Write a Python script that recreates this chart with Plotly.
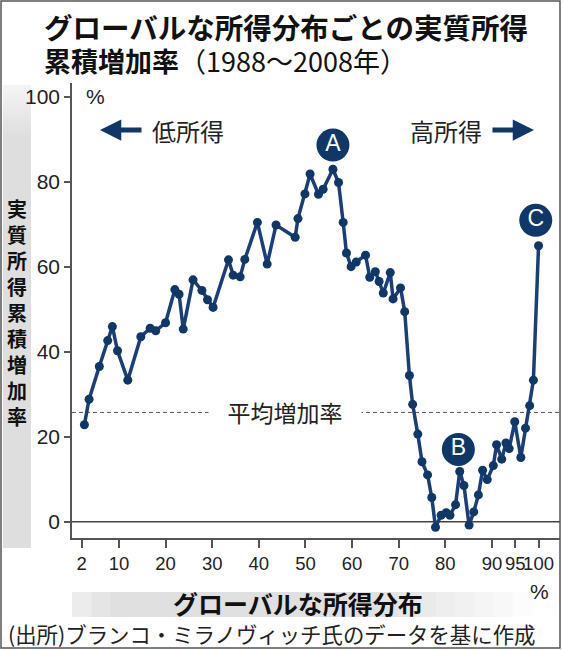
import plotly.graph_objects as go

# ---- data ----
pct = [2.6, 3.6, 5.8, 7.6, 8.6, 9.7, 11.9, 14.7, 16.7, 17.9,
       20.0, 22.0, 22.9, 23.8, 25.9, 27.8, 29.0, 30.2, 33.5, 34.5,
       36.0, 37.0, 39.7, 41.8, 43.7, 47.8, 48.4, 49.9, 51.0, 52.8,
       53.8, 55.9, 57.1, 58.1, 58.8, 59.8, 60.9, 62.9, 63.8, 65.0,
       65.8, 66.7, 68.2, 68.8, 70.4, 71.3, 72.3, 73.0, 74.1, 75.0,
       76.2, 77.1, 77.9, 79.1, 80.2, 81.0, 82.2, 83.1, 84.0, 85.1,
       86.1, 87.1, 88.0, 89.0, 90.3, 91.0, 92.1, 93.0, 93.7, 94.9,
       96.2, 97.2, 98.1, 98.9, 100.0]
growth = [22.8, 28.8, 36.5, 42.6, 45.9, 40.2, 33.3, 43.5, 45.5, 44.9,
          46.8, 54.6, 53.5, 45.3, 56.9, 54.4, 52.2, 50.4, 61.6, 58.0,
          57.6, 61.7, 70.4, 60.6, 69.8, 66.9, 71.3, 77.1, 81.8, 77.0,
          78.2, 82.9, 79.8, 70.4, 63.2, 60.0, 61.1, 62.7, 57.5, 58.8,
          56.5, 53.8, 58.6, 52.4, 55.0, 49.4, 34.4, 27.6, 20.6, 14.1,
          11.0, 5.7, -1.3, 1.5, 2.1, 1.5, 4.0, 11.8, 8.5, -0.8,
          2.3, 6.3, 12.1, 9.9, 13.2, 18.1, 14.7, 18.5, 17.2, 23.5,
          15.1, 22.0, 27.3, 33.3, 64.9]
average_growth = 25.7

x_tickvals = [2, 10, 20, 30, 40, 50, 60, 70, 80, 90, 95, 100]
x_ticktext = ["2", "10", "20", "30", "40", "50", "60", "70", "80", "90", "95", "100"]
y_tickvals = [0, 20, 40, 60, 80, 100]

marker_labels = ["A", "B", "C"]
marker_x = [55.9, 82.8, 99.4]
marker_y = [88.6, 17.0, 70.9]

title1 = "グローバルな所得分布ごとの実質所得"
title2_bold = "累積増加率"
title2_rest = "（1988～2008年）"
y_title = "実質所得累積増加率"
x_title = "グローバルな所得分布"
source = "(出所)ブランコ・ミラノヴィッチ氏のデータを基に作成"
avg_label = "平均増加率"
low_label = "低所得"
high_label = "高所得"

# ---- styling ----
NAVY = "#1a3f78"
DARK = "#0f3768"
TXT = "#222222"
CJK = "Noto Sans CJK JP"
NUM = "Liberation Sans, Arial, sans-serif"

W, H = 563, 650
L, R, T, B = 72, 3, 83, 112
PW, PH = W - L - R, H - T - B


def px(xp):
    return (xp - L) / PW


def py(yp):
    return (H - B - yp) / PH


fig = go.Figure()

fig.add_trace(go.Scatter(
    x=pct, y=growth, mode="lines+markers",
    line=dict(color=NAVY, width=3.5),
    marker=dict(color=DARK, size=9),
    hoverinfo="skip", cliponaxis=False))

fig.add_trace(go.Scatter(
    x=marker_x, y=marker_y, mode="markers+text",
    text=marker_labels, textposition="middle center",
    marker=dict(color=DARK, size=33),
    textfont=dict(color="white", size=23, family=NUM),
    hoverinfo="skip", cliponaxis=False))

shapes = []
# left grey band (gradient-ish)
n = 14
for i in range(n):
    y0 = 85 + i * 4
    c = int(246 - (246 - 222) * (i + 1) / n)
    shapes.append(dict(type="rect", xref="paper", yref="paper",
                       x0=px(3), x1=px(31), y0=py(y0), y1=py(y0 + 4),
                       fillcolor=f"rgb({c},{c},{c})", line=dict(width=0), layer="below"))
shapes.append(dict(type="rect", xref="paper", yref="paper",
                   x0=px(3), x1=px(31), y0=py(85 + n * 4), y1=py(548),
                   fillcolor="rgb(222,222,222)", line=dict(width=0), layer="below"))
# bottom grey band
m = 24
x_start, x_end = 72, 532
wstep = (x_end - x_start) / m
for i in range(m):
    xa = x_start + i * wstep
    t = i / (m - 1)
    if t < 0.08:
        c = int(236 - (236 - 224) * t / 0.08)
    elif t < 0.65:
        c = 224
    else:
        c = int(224 + (252 - 224) * (t - 0.65) / 0.35)
    shapes.append(dict(type="rect", xref="paper", yref="paper",
                       x0=px(xa), x1=px(xa + wstep + 0.5), y0=py(617), y1=py(592),
                       fillcolor=f"rgb({c},{c},{c})", line=dict(width=0), layer="below"))
# zero line
shapes.append(dict(type="line", xref="paper", yref="y", x0=0, x1=1, y0=0, y1=0,
                   line=dict(color="#444444", width=1.5), layer="below"))
# average line
shapes.append(dict(type="line", xref="paper", yref="y", x0=0, x1=1,
                   y0=average_growth, y1=average_growth,
                   line=dict(color="#555555", width=1, dash="4px,3px"), layer="below"))
# outer frame
shapes.append(dict(type="rect", xref="paper", yref="paper",
                   x0=px(1), x1=px(560), y0=py(648), y1=py(1),
                   line=dict(color="#555555", width=1.5)))

annotations = []
# two-line title in one annotation (line spacing 1.3 x 25.5px ~ 33px)
annotations.append(dict(xref="paper", yref="paper", x=px(42), y=py(42.5),
                        xanchor="left", yanchor="middle", showarrow=False, align="left",
                        text=(f"<span style='font-size:28.5px'><b>{title1}</b></span><br>"
                              f"<span style='font-size:27px'><b>{title2_bold}</b>{title2_rest}</span>"),
                        font=dict(family=CJK, size=25.5, color="#111111")))
# vertical y-title, stacked characters
annotations.append(dict(xref="paper", yref="paper", x=px(17), y=py(312),
                        xanchor="center", yanchor="middle", showarrow=False,
                        text="<br>".join(f"<b>{ch}</b>" for ch in y_title),
                        font=dict(family=CJK, size=20, color="#111111")))
annotations.append(dict(xref="paper", yref="paper", x=px(298), y=py(603),
                        xanchor="center", yanchor="middle", showarrow=False,
                        text=f"<b>{x_title}</b>",
                        font=dict(family=CJK, size=25, color="#111111")))
annotations.append(dict(xref="paper", yref="paper", x=px(539), y=py(591),
                        xanchor="center", yanchor="middle", showarrow=False,
                        text="%", font=dict(family=NUM, size=21, color=TXT)))
annotations.append(dict(xref="paper", yref="y", x=px(84), y=100,
                        xanchor="left", yanchor="middle", showarrow=False,
                        text="%", font=dict(family=NUM, size=21, color=TXT)))
annotations.append(dict(xref="paper", yref="paper", x=px(6), y=py(633),
                        xanchor="left", yanchor="middle", showarrow=False,
                        text=source, font=dict(family=CJK, size=21.4, color=TXT)))
annotations.append(dict(xref="paper", yref="y", x=px(285), y=average_growth,
                        xanchor="center", yanchor="middle", showarrow=False,
                        text=avg_label, bgcolor="white", width=150,
                        font=dict(family=CJK, size=23, color=TXT)))
annotations.append(dict(xref="paper", yref="paper", x=px(150), y=py(130),
                        xanchor="left", yanchor="middle", showarrow=False,
                        text=low_label, font=dict(family=CJK, size=24, color=TXT)))
annotations.append(dict(xref="paper", yref="paper", x=px(484), y=py(130),
                        xanchor="right", yanchor="middle", showarrow=False,
                        text=high_label, font=dict(family=CJK, size=24, color=TXT)))
# arrows
annotations.append(dict(xref="paper", yref="paper", x=px(100), y=py(130),
                        ax=43, ay=0, showarrow=True, arrowhead=2, arrowsize=0.85,
                        arrowwidth=5, arrowcolor=DARK, text=""))
annotations.append(dict(xref="paper", yref="paper", x=px(534), y=py(130),
                        ax=-43, ay=0, showarrow=True, arrowhead=2, arrowsize=0.85,
                        arrowwidth=5, arrowcolor=DARK, text=""))

fig.update_layout(
    width=W, height=H, autosize=False,
    margin=dict(l=L, r=R, t=T, b=B, pad=0),
    plot_bgcolor="white", paper_bgcolor="white",
    showlegend=False, shapes=shapes, annotations=annotations,
    xaxis=dict(range=[-0.06, 104.6], showline=True, linecolor="#555555", linewidth=1.5,
               ticks="outside", ticklen=8, tickwidth=1.5, tickcolor="#555555",
               tickvals=x_tickvals, ticktext=x_ticktext, tickangle=0,
               tickfont=dict(family=NUM, size=18.5, color=TXT),
               showgrid=False, zeroline=False, fixedrange=True),
    yaxis=dict(range=[-3.84, 103.2], showline=True, linecolor="#555555", linewidth=1.5,
               ticks="outside", ticklen=6, tickwidth=1.5, tickcolor="#555555",
               tickvals=y_tickvals,
               tickfont=dict(family=NUM, size=21, color=TXT),
               showgrid=False, zeroline=False, fixedrange=True),
)

fig.write_html("out.html", config={"displayModeBar": False},
               post_script="document.body.style.margin='0';document.body.style.padding='0';")
